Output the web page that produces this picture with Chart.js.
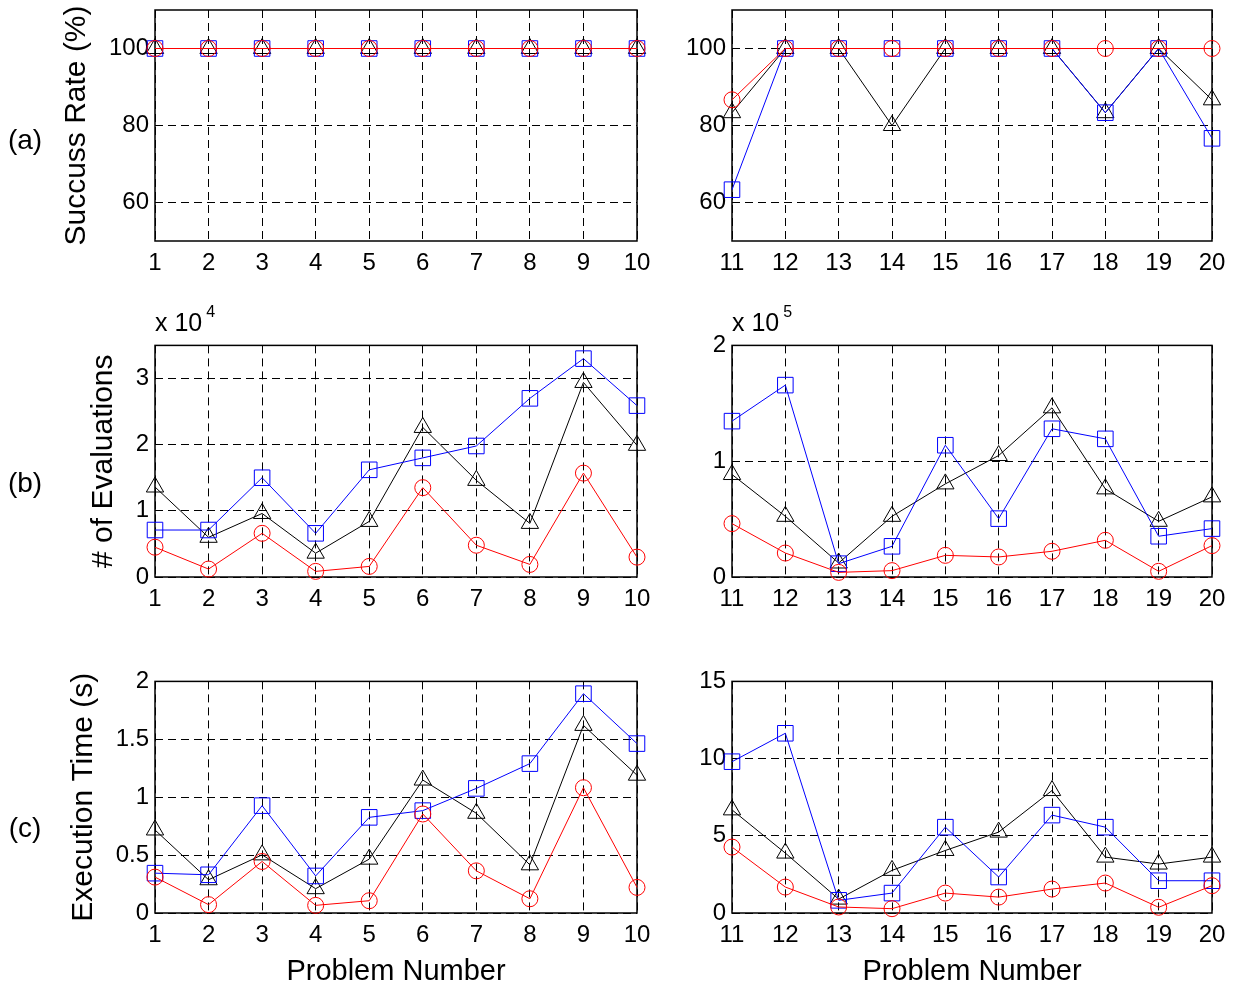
<!DOCTYPE html>
<html>
<head>
<meta charset="utf-8">
<script src="https://cdn.jsdelivr.net/npm/chart.js@4.4.1/dist/chart.umd.min.js"></script>
<style>
  body { margin: 0; background: #fff; }
  #wrap { position: relative; width: 1234px; height: 989px; overflow: hidden; font-family: "Liberation Sans", Arial, sans-serif; color: #000; }
  canvas { position: absolute; }
  .tag { position: absolute; left: 0; width: 50px; text-align: center; font-size: 28px; line-height: 34px; }
  .mult { position: absolute; font-size: 25px; line-height: 28px; white-space: nowrap; }
  .mult sup { font-size: 16px; position: relative; top: -14px; vertical-align: baseline; margin-left: 4px; }
</style>
</head>
<body>
<div id="wrap">
  <canvas id="a1" width="660" height="300" style="left:0;top:-20px"></canvas>
  <canvas id="a2" width="594" height="300" style="left:640px;top:-20px"></canvas>
  <canvas id="b1" width="660" height="290" style="left:0;top:325px"></canvas>
  <canvas id="b2" width="594" height="290" style="left:640px;top:325px"></canvas>
  <canvas id="c1" width="660" height="328" style="left:0;top:661px"></canvas>
  <canvas id="c2" width="594" height="328" style="left:640px;top:661px"></canvas>
  <div class="tag" style="top:123px">(a)</div>
  <div class="tag" style="top:466px">(b)</div>
  <div class="tag" style="top:811px">(c)</div>
  <div class="mult" style="left:155px;top:308px">x 10<sup>4</sup></div>
  <div class="mult" style="left:732px;top:308px">x 10<sup>5</sup></div>
</div>
<script>
Chart.defaults.font.family = '"Liberation Sans", Arial, sans-serif';
Chart.defaults.color = '#000';

const probLeft = ['1', '2', '3', '4', '5', '6', '7', '8', '9', '10'];
const probRight = ['11', '12', '13', '14', '15', '16', '17', '18', '19', '20'];

// (a) success rate, %
const rateRedL = [100, 100, 100, 100, 100, 100, 100, 100, 100, 100];
const rateBlueL = [100, 100, 100, 100, 100, 100, 100, 100, 100, 100];
const rateBlackL = [100, 100, 100, 100, 100, 100, 100, 100, 100, 100];
const rateRedR = [86.67, 100, 100, 100, 100, 100, 100, 100, 100, 100];
const rateBlueR = [63.33, 100, 100, 100, 100, 100, 100, 83.33, 100, 76.67];
const rateBlackR = [83.33, 100, 100, 80, 100, 100, 100, 83.33, 100, 86.67];

// (b) number of evaluations
const evalRedL = [4500, 1200, 6600, 850, 1600, 13500, 4800, 1900, 15700, 3000];
const evalBlueL = [7100, 7100, 15000, 6600, 16200, 18000, 19800, 27000, 33000, 25900];
const evalBlackL = [13600, 6000, 9600, 3600, 8400, 22600, 14600, 8100, 29400, 19900];
const evalRedR = [46100, 20700, 4000, 5500, 18700, 17300, 22200, 31700, 4900, 27100];
const evalBlueR = [134600, 165700, 11500, 26500, 113800, 50400, 128000, 119300, 35200, 41800];
const evalBlackR = [88500, 52400, 12100, 52400, 80400, 104900, 146100, 76100, 48100, 69200];

// (c) execution time, s
const timeRedL = [0.31, 0.072, 0.445, 0.066, 0.106, 0.855, 0.364, 0.123, 1.082, 0.221];
const timeBlueL = [0.344, 0.33, 0.927, 0.32, 0.826, 0.884, 1.076, 1.29, 1.894, 1.463];
const timeBlackL = [0.717, 0.287, 0.502, 0.21, 0.465, 1.148, 0.861, 0.416, 1.62, 1.19];
const timeRedR = [4.27, 1.68, 0.39, 0.28, 1.29, 1.03, 1.55, 1.94, 0.37, 1.77];
const timeBlueR = [9.8, 11.64, 0.82, 1.29, 5.56, 2.33, 6.34, 5.56, 2.09, 2.09];
const timeBlackR = [6.68, 3.88, 0.9, 2.76, 4.05, 5.24, 7.93, 3.62, 3.17, 3.62];

// tick values
const rateTicks = [60, 80, 100];
const evalTicksL = [0, 10000, 20000, 30000];
const evalTicksR = [0, 100000, 200000];
const timeTicksL = [0, 0.5, 1, 1.5, 2];
const timeTicksR = [0, 5, 10, 15];

const tickFont = { size: 24 };
const titleFont = { size: 29 };
const yTitleFont = { size: 30 };

// full box round the plot area, like matlab's "box on"
const boxPlugin = {
    id: 'box',
    beforeDatasetsDraw(chart) {
        const a = chart.chartArea, c = chart.ctx;
        c.save();
        c.strokeStyle = '#000';
        c.lineWidth = 1.5;
        c.setLineDash([]);
        c.strokeRect(a.left, a.top, a.right - a.left, a.bottom - a.top);
        c.restore();
    }
};

function serie(label, data, color, style, r) {
    return {
        label, data, borderColor: color, borderWidth: 1, tension: 0, fill: false, clip: false,
        pointStyle: style, pointRadius: r, pointBorderColor: color, pointBorderWidth: 1,
        pointBackgroundColor: 'rgba(0,0,0,0)'
    };
}

function panel(id, p) {
    new Chart(document.getElementById(id), {
        type: 'line',
        data: {
            labels: p.labels,
            datasets: [
                serie('red', p.red, '#ff0000', 'circle', 8),
                serie('blue', p.blue, '#0000ff', 'rect', 11),
                serie('black', p.black, '#000000', 'triangle', 10)
            ]
        },
        options: {
            responsive: false, animation: false, events: [],
            layout: { padding: { left: p.padLeft, right: p.padRight, top: p.padTop, bottom: 0 } },
            plugins: { legend: { display: false }, tooltip: { enabled: false } },
            scales: {
                x: {
                    offset: false,
                    grid: { color: '#000', lineWidth: 1, drawTicks: false },
                    border: { display: false, dash: [8, 5] },
                    ticks: { font: tickFont, padding: 8, autoSkip: false, maxRotation: 0 },
                    title: { display: !!p.xTitle, text: p.xTitle || '', font: titleFont, padding: 0 },
                    afterFit: s => { s.height = p.xHeight; }
                },
                y: {
                    min: p.min, max: p.max,
                    grid: { color: '#000', lineWidth: 1, drawTicks: false },
                    border: { display: false, dash: [8, 5] },
                    ticks: { font: tickFont, padding: 6, callback: p.fmt },
                    title: { display: !!p.yTitle, text: p.yTitle || '', font: yTitleFont, padding: 0 },
                    afterBuildTicks: s => { s.ticks = p.ticks.map(v => ({ value: v })); },
                    afterFit: s => { s.width = p.yWidth; }
                }
            }
        },
        plugins: [boxPlugin]
    });
}

const plain = v => String(v);

panel('a1', { labels: probLeft, red: rateRedL, blue: rateBlueL, black: rateBlackL, min: 50, max: 110, ticks: rateTicks, fmt: plain,
    yTitle: 'Succuss Rate (%)', padLeft: 59, yWidth: 96, padRight: 23, padTop: 30, xHeight: 39 });
panel('a2', { labels: probRight, red: rateRedR, blue: rateBlueR, black: rateBlackR, min: 50, max: 110, ticks: rateTicks, fmt: plain,
    padLeft: 0, yWidth: 92, padRight: 22, padTop: 30, xHeight: 39 });
panel('b1', { labels: probLeft, red: evalRedL, blue: evalBlueL, black: evalBlackL, min: 0, max: 35000, ticks: evalTicksL, fmt: v => String(v / 1e4),
    yTitle: '# of Evaluations', padLeft: 86, yWidth: 69, padRight: 23, padTop: 20, xHeight: 38 });
panel('b2', { labels: probRight, red: evalRedR, blue: evalBlueR, black: evalBlackR, min: 0, max: 200000, ticks: evalTicksR, fmt: v => String(v / 1e5),
    padLeft: 0, yWidth: 92, padRight: 22, padTop: 20, xHeight: 38 });
panel('c1', { labels: probLeft, red: timeRedL, blue: timeBlueL, black: timeBlackL, min: 0, max: 2, ticks: timeTicksL, fmt: plain,
    yTitle: 'Execution Time (s)', xTitle: 'Problem Number', padLeft: 66, yWidth: 89, padRight: 23, padTop: 20, xHeight: 76 });
panel('c2', { labels: probRight, red: timeRedR, blue: timeBlueR, black: timeBlackR, min: 0, max: 15, ticks: timeTicksR, fmt: plain,
    xTitle: 'Problem Number', padLeft: 0, yWidth: 92, padRight: 22, padTop: 20, xHeight: 76 });
</script>
</body>
</html>
